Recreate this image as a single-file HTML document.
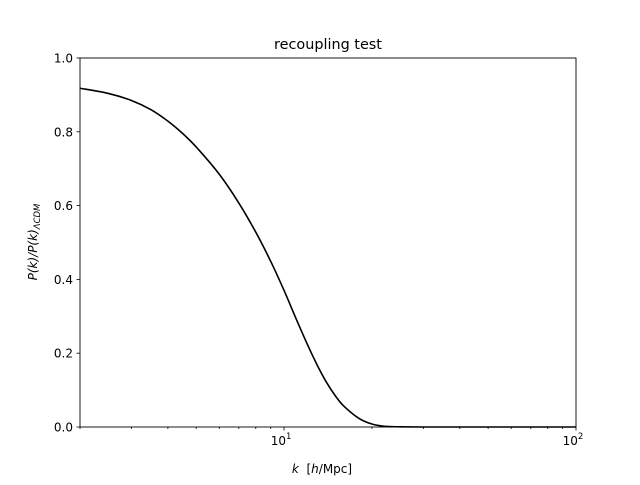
<!DOCTYPE html>
<html><head><meta charset="utf-8"><style>
body{margin:0;background:#fff}
svg text{font-family:"DejaVu Sans","Liberation Sans",sans-serif;fill:#000}
</style></head><body>
<svg id="chart" width="640" height="480">
<rect width="640" height="480" fill="#fff"/>
<text x="328" y="49" font-size="14.4" text-anchor="middle">recoupling test</text>
<g id="ticks"></g>
<path id="curve" fill="none" stroke="#000" stroke-width="1.6"/>
<rect x="80" y="58" width="496" height="369" fill="none" stroke="#000" stroke-width="0.9"/>
<text x="322" y="473" font-size="12" text-anchor="middle" xml:space="preserve"><tspan font-style="italic">k</tspan>  [<tspan font-style="italic">h</tspan>/Mpc]</text>
<text transform="translate(37,242) rotate(-90)" font-size="12" text-anchor="middle"><tspan font-style="italic">P(k)/P(k)</tspan><tspan font-size="8.5" dy="3" font-style="italic">ΛCDM</tspan></text>
</svg>
<script>
const kValues=[2,2.5,3,3.5,4,4.5,5,6,7,8,9,10,11,12,13,14,15,16,18,20,22,25,30,40,100];
const ratioValues=[0.918,0.904,0.885,0.86,0.829,0.795,0.759,0.685,0.607,0.528,0.449,0.37,0.293,0.225,0.167,0.12,0.084,0.057,0.024,0.008,0.002,0.0005,0,0,0];
const yTicks=[0,0.2,0.4,0.6,0.8,1.0];
const yTickLabels=["0.0","0.2","0.4","0.6","0.8","1.0"];
const xMajor=[10,100];
const xMajorLabels=["10","10"];
const xMinor=[2,3,4,5,6,7,8,9,20,30,40,50,60,70,80,90];
const L=80,R=576,T=58,B=427,xmin=2,xmax=100;
const xs=k=>L+(Math.log10(k)-Math.log10(xmin))/(Math.log10(xmax)-Math.log10(xmin))*(R-L);
const ys=v=>B-v*(B-T);
const NS="http://www.w3.org/2000/svg";
const g=document.getElementById('ticks');
function line(x1,y1,x2,y2,name){const l=document.createElementNS(NS,'line');l.setAttribute('x1',x1);l.setAttribute('y1',y1);l.setAttribute('x2',x2);l.setAttribute('y2',y2);l.setAttribute('stroke','#000');l.setAttribute('stroke-width','0.8');


g.appendChild(l);}
function text(x,y,s,anchor,name,sup){const t=document.createElementNS(NS,'text');t.setAttribute('x',x);t.setAttribute('y',y);t.setAttribute('font-size','12');t.setAttribute('text-anchor',anchor);t.textContent=s;
if(sup){const sp=document.createElementNS(NS,'tspan');sp.setAttribute('font-size','8.5');sp.setAttribute('dy','-6');sp.textContent=sup;t.appendChild(sp);}


g.appendChild(t);}
yTicks.forEach((v,i)=>{const y=ys(v);line(L-3.5,y,L,y,'y-tick');text(L-7,y+4.5,yTickLabels[i],'end','y-tick-label');});
xMajor.forEach((k,i)=>{const x=xs(k);line(x,B,x,B+3.5,'x-tick');text(x-3,B+18,xMajorLabels[i],'middle','x-tick-label',i==0?'1':'2');});
xMinor.forEach(k=>{const x=xs(k);line(x,B,x,B+2,'x-minor-tick');});
const P=kValues.map((k,i)=>[xs(k),ys(ratioValues[i])]);
let d='M'+P[0][0].toFixed(2)+','+P[0][1].toFixed(2);
for(let i=0;i<P.length-1;i++){
  const p0=P[Math.max(0,i-1)],p1=P[i],p2=P[i+1],p3=P[Math.min(P.length-1,i+2)];
  let c1y=p1[1]+(p2[1]-p0[1])/6, c2y=p2[1]-(p3[1]-p1[1])/6;
  c1y=Math.min(c1y,B);c2y=Math.min(c2y,B);
  d+='C'+(p1[0]+(p2[0]-p0[0])/6).toFixed(2)+','+c1y.toFixed(2)+' '+(p2[0]-(p3[0]-p1[0])/6).toFixed(2)+','+c2y.toFixed(2)+' '+p2[0].toFixed(2)+','+p2[1].toFixed(2);
}
document.getElementById('curve').setAttribute('d',d);
</script>
</body></html>
